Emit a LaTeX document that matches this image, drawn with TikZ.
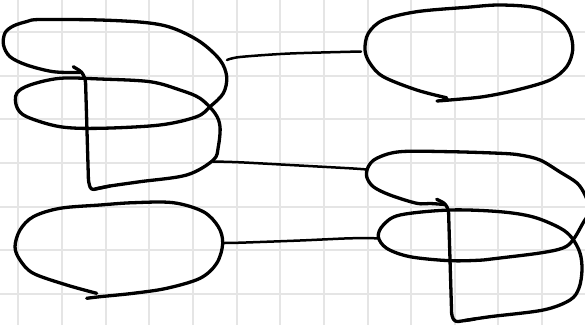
\documentclass[tikz,border=0pt]{standalone}
\usetikzlibrary{calc}
\definecolor{gridgray}{RGB}{229,229,229}
\tikzset{
  gridline/.style={draw=gridgray, line width=2pt},
  ink/.style={draw=black, line width=3.3pt, line cap=round, line join=round},
  conn/.style={draw=black, line width=2.5pt, line cap=round}
}
\begin{document}
\begin{tikzpicture}[x=1pt,y=-1pt]
\useasboundingbox (0,0) rectangle (585,324);
\clip (0,0) rectangle (585,324);
\fill[white] (0,0) rectangle (585,324);
% grid paper
\foreach \k in {0,...,13} {\draw[gridline] ({18.3+43.65*\k},-5) -- ({18.3+43.65*\k},330);}
\foreach \k in {-1,...,6} {\draw[gridline] (-5,{32+43.65*\k}) -- (590,{32+43.65*\k});}

% top-left shape
\draw[ink] plot[smooth,tension=0.55] coordinates {(80,72.5) (53.3,71.7) (26.7,65) (10,56.7) (3.5,45) (5,33) (13.3,26) (27,21.5) (40,19.5) (100,20) (146.7,22.7) (173.3,28.3) (200,41.7) (220,60) (226.7,76.7) (223.3,93.3) (210,106.7) (196.7,116.7) (160,125) (100,128.3) (60,126.7) (26.7,116.7) (16.7,106.7) (16.7,93.3) (30,85) (60,78.3) (100,79) (150,81.7) (180,90) (200,98.3) (215,113.3) (220,126.7) (218.3,146.7) (213.3,160) (186.7,175) (140,181.7) (110,186) (95,189)};
\draw[ink, rounded corners=3pt] (110,186) -- (91,190) -- (88.5,182) -- (85.5,80) -- (82,72) -- (73.3,66.7);

% top-right loop
\draw[ink] plot[smooth,tension=0.55] coordinates {(437,101) (452,99.8) (483.3,96.7) (516.7,90) (550,80) (566.7,66.7) (572.7,50) (570,33.3) (560,20) (536.7,8) (500,5) (466.7,7.3) (416.7,11.7) (383.3,20) (368.3,33.3) (365,50) (370,63.3) (383.3,76.7) (416.7,90) (446.7,97.8)};

% bottom-left loop
\draw[ink] plot[smooth,tension=0.55] coordinates {(86.7,298.3) (100,296.7) (133.3,293.3) (166.7,288.3) (200,278.3) (216.7,263.3) (222.7,243.3) (218.3,226.7) (203.3,211.7) (173.3,202.7) (133.3,202.7) (100,205) (60,208.3) (33.3,216.7) (20,230) (15,246.7) (20,260) (33.3,273.3) (66.7,285) (96.7,293.3)};

% bottom-right shape
\draw[ink] plot[smooth,tension=0.55] coordinates {(445,204.5) (430,203.5) (416.7,203.3) (390,195) (373.3,186.7) (366.7,176.7) (368.3,166.7) (376.7,158.3) (400,151.7) (450,151.7) (500,153.3) (520,155) (540,160) (560,172) (577,183) (585,195) (590,210) (583,223) (573,240) (563,248) (540,253) (500,258) (483.3,260) (450,260.7) (410,256.7) (386.7,248.3) (378.3,236.7) (383.3,225) (400,215) (450,210) (500,211.7) (533.3,217) (560,228) (572,238) (580,253) (582,270) (579,288) (570,300) (543.3,310) (490,316.7) (465,320.5)};
\draw[ink, rounded corners=3pt] (475,319) -- (455,322) -- (451.7,316) -- (448.5,210) -- (445,203.3) -- (436.7,199.3);

% connector end points
\coordinate (tlR) at (227,60);
\coordinate (trL) at (361,51.5);
\coordinate (tlB) at (213,161.5);
\coordinate (brT) at (367,169.5);
\coordinate (blR) at (223,243);
\coordinate (brL) at (378,238.3);

\draw[conn] plot[smooth,tension=0.5] coordinates {(tlR) (240,57) (290,53.5) (trL)};
\draw[conn] plot[smooth,tension=0.5] coordinates {(tlB) (240,162.3) (290,165) (350,168.3) (brT)};
\draw[conn] plot[smooth,tension=0.5] coordinates {(blR) (240,242.7) (300,240.5) (350,238.3) (brL)};
\end{tikzpicture}
\end{document}
